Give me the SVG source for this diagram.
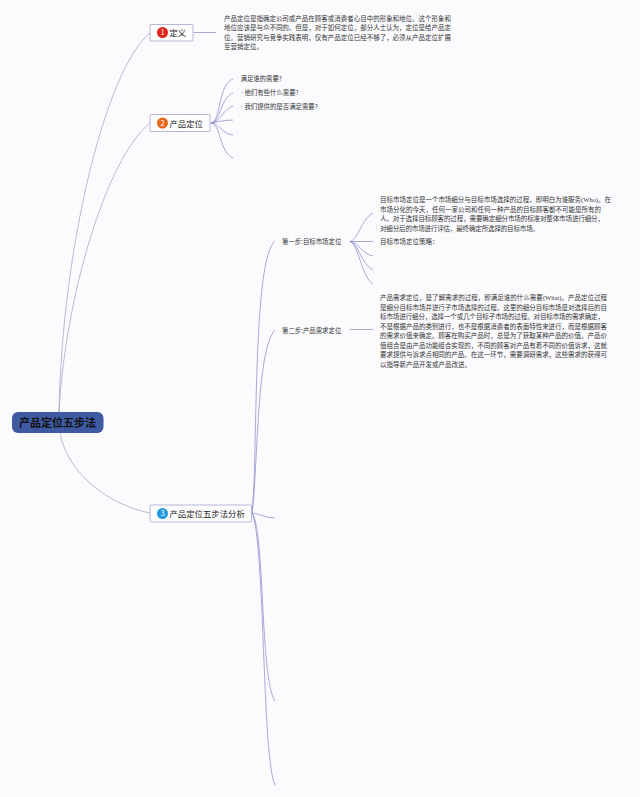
<svg xmlns="http://www.w3.org/2000/svg" width="640" height="797" viewBox="0 0 640 797">
<style>
text{font-family:"Noto Sans CJK SC","Liberation Sans",sans-serif;fill:#333}
.b{font-size:6.5px;fill:#333}
.s{font-size:6.4px;fill:#333}
.t{font-size:8.4px;fill:#222}
.box{fill:#fdfdfe;stroke:#b4b6d6;stroke-width:1}
.n{font-size:7.5px;fill:#fff;text-anchor:middle}
.l{font-family:"Liberation Serif",serif}
.d{font-family:"Liberation Sans",sans-serif}
#connectors path{fill:none;stroke-width:.75}
.g{stroke:#a3a4c4}
.p{stroke:#8c8ecb}
</style>
<rect width="640" height="797" fill="#fbfbfe"/>
<g id="connectors">
<path class="g" d="M59 412C62 250 105 70 150 33"/>
<path class="g" d="M59 412C65 300 105 160 150 123"/>
<path class="g" d="M60 433C68 475 110 505 150 513"/>
<path class="p" d="M194 32.500H216"/>
<path class="p" d="M211 123C221 122 218 84 233 79"/>
<path class="p" d="M211 123C221 122 220 98 233 93"/>
<path class="p" d="M211 123C221 122 222 110 233 106"/>
<path class="p" d="M211 123C218 122 224 120 233 120"/>
<path class="p" d="M211 123C219 123 222 134 233 135"/>
<path class="p" d="M211 123C221 124 219 152 233 158"/>
<path class="p" d="M252 513C258 460 252 260 275 241"/>
<path class="p" d="M252 513C258 470 256 350 275 330"/>
<path class="p" d="M252 513C258 513 265 518 275 518"/>
<path class="p" d="M252 513C265 530 260 680 275 701"/>
<path class="p" d="M252 513C265 540 262 760 275 785"/>
<path class="p" d="M350 241.500C358 240 362 218 373 213"/>
<path class="p" d="M350 241.500H373"/>
<path class="p" d="M350 241.500C358 242 362 254 373 256"/>
<path class="p" d="M350 241.500C358 243 362 265 373 270"/>
<path class="p" d="M350 241.500C358 243 362 278 373 284"/>
<path class="p" d="M350 329.500H373"/>
</g>
<g id="root"><rect x="12" y="412" width="91.500" height="21" rx="6" fill="#3e5aa3"/><text x="57.500" y="427" text-anchor="middle" font-size="11" font-weight="700" style="fill:#111">产品定位五步法</text></g>
<g id="node-1"><rect class="box" x="150" y="24.500" width="43" height="16.500" rx="1"/><circle cx="162.500" cy="32.500" r="5.500" fill="#e2231a"/><text class="n" x="162.500" y="35.200">1</text><text class="t" x="169.500" y="35.700">定义</text></g>
<g id="node-2"><rect class="box" x="150" y="114.500" width="60" height="17" rx="1"/><circle cx="162.500" cy="123" r="5.500" fill="#e8681a"/><text class="n" x="162.500" y="125.700">2</text><text class="t" x="169.500" y="126.600">产品定位</text></g>
<g id="node-3"><rect class="box" x="150" y="505" width="101.500" height="17" rx="1"/><circle cx="162.500" cy="513.500" r="5.500" fill="#1f9ae0"/><text class="n" x="162.500" y="516.200">3</text><text class="t" x="169.500" y="516.800">产品定位五步法分析</text></g>
<g id="definition-text">
<text class="b" x="224" y="21" textLength="227">产品定位是指确定公司或产品在顾客或消费者心目中的形象和地位。这个形象和</text>
<text class="b" x="224" y="30.400" textLength="227">地位应该是与众不同的。但是，对于如何定位，部分人士认为，定位是给产品定</text>
<text class="b" x="224" y="39.700" textLength="227">位。营销研究与竞争实践表明，仅有产品定位已经不够了，必须从产品定位扩展</text>
<text class="b" x="224" y="49">至营销定位。</text>
</g>
<g id="positioning-items">
<text class="s" x="240.500" y="81.400">满足谁的需要?</text>
<text class="s" x="240.500" y="95.400"><tspan class="d">· </tspan>他们有些什么需要?</text>
<text class="s" x="240.500" y="109.400"><tspan class="d">· </tspan>我们提供的是否满足需要?</text>
</g>
<g id="step-1"><text class="s" x="282" y="244.300">第一步:目标市场定位</text></g>
<g id="step-1-text">
<text class="b" x="380" y="202.300" textLength="231">目标市场定位是一个市场细分与目标市场选择的过程，即明白为谁服务<tspan class="l">(Who)</tspan>。在</text>
<text class="b" x="380" y="211.800" textLength="221">市场分化的今天，任何一家公司和任何一种产品的目标顾客都不可能是所有的</text>
<text class="b" x="380" y="221.300" textLength="224">人。对于选择目标顾客的过程，需要确定细分市场的标准对整体市场进行细分，</text>
<text class="b" x="380" y="230.800" textLength="159">对细分后的市场进行评估，最终确定所选择的目标市场。</text>
<text class="b" x="380" y="244.300">目标市场定位策略：</text>
</g>
<g id="step-2"><text class="s" x="282" y="333">第二步:产品需求定位</text></g>
<g id="step-2-text">
<text class="b" x="380" y="300.300" textLength="227">产品需求定位，是了解需求的过程，即满足谁的什么需要<tspan class="l">(What)</tspan>。产品定位过程</text>
<text class="b" x="380" y="309.800" textLength="227">是细分目标市场并进行子市场选择的过程。这里的细分目标市场是对选择后的目</text>
<text class="b" x="380" y="319.300" textLength="224">标市场进行细分，选择一个或几个目标子市场的过程。对目标市场的需求确定，</text>
<text class="b" x="380" y="328.800" textLength="227">不是根据产品的类别进行，也不是根据消费者的表面特性来进行，而是根据顾客</text>
<text class="b" x="380" y="338.300" textLength="227">的需求价值来确定。顾客在购买产品时，总是为了获取某种产品的价值。产品价</text>
<text class="b" x="380" y="347.800" textLength="227">值组合是由产品功能组合实现的，不同的顾客对产品有着不同的价值诉求，这就</text>
<text class="b" x="380" y="357.300" textLength="227">要求提供与诉求点相同的产品。在这一环节，需要调研需求，这些需求的获得可</text>
<text class="b" x="380" y="366.800">以指导新产品开发或产品改进。</text>
</g>
</svg>
